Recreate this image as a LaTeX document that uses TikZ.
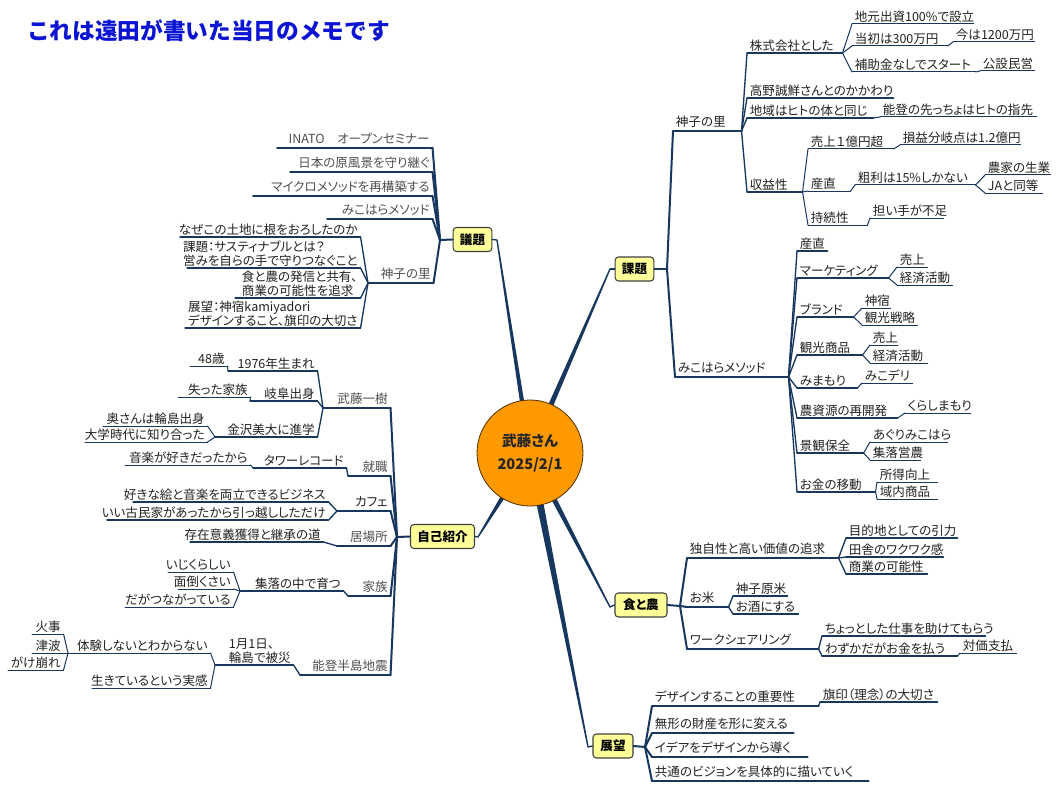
\documentclass[tikz,border=0pt]{standalone}
\usepackage{fontspec}
\setmainfont{Noto Sans CJK JP}[RawFeature={+palt}]
\newfontfamily\tfont{Noto Sans CJK JP}
\usetikzlibrary{calc}
\definecolor{mnavy}{HTML}{17375E}
\definecolor{txt}{HTML}{222222}
\definecolor{gtxt}{HTML}{505050}
\definecolor{boxy}{HTML}{FFFF99}
\definecolor{orng}{HTML}{FF9900}
\definecolor{ttl}{HTML}{0A14D2}
\tikzset{
 base/.style={inner xsep=0pt, text depth=0pt, font=\fontsize{9.4}{11.5}\selectfont, text=txt},
 t1/.style={base, inner ysep=3.5pt},
 t1g/.style={t1, text=gtxt},
 t2/.style={base, inner ysep=2pt},
 t3/.style={base, inner ysep=1.8pt},
 u1/.style={draw=mnavy, line width=1.5pt, line cap=round, line join=round},
 u1g/.style={u1},
 u2/.style={draw=mnavy, line width=1pt, line cap=round, line join=round},
 u3/.style={draw=mnavy, line width=0.75pt, line cap=round, line join=round},
 topic/.style={draw=black!75, fill=boxy, rounded corners=2.5pt, line width=0.8pt,
   font=\fontsize{9.4}{11}\selectfont\bfseries, minimum height=18pt, inner sep=1pt},
}
\newcommand\RT[6]{%
  \node[t#5, anchor=south west] (#1) at (#2,#4)
    {\makebox[\dimexpr(#3pt-#2pt)*3/4\relax][l]{\hspace*{2pt}#6}};
  \draw[u#5] (#1.south west) -- (#1.south east);}
\newcommand\LT[6]{%
  \node[t#5, anchor=south west] (#1) at (#2,#4)
    {\makebox[\dimexpr(#3pt-#2pt)*3/4\relax][r]{#6\hspace*{2pt}}};
  \draw[u#5] (#1.south west) -- (#1.south east);}
\newcommand\ml[2]{\begin{tabular}[b]{@{}l@{}}#1\\[-1.5pt]#2\end{tabular}}
\newcommand\taper[4]{\fill[mnavy] ($(#1)!#3!90:(#2)$) -- ($(#1)!#3!-90:(#2)$) -- ($(#2)!#4!90:(#1)$) -- ($(#2)!#4!-90:(#1)$) -- cycle;}
\begin{document}
\begin{tikzpicture}[x=0.75pt,y=-0.75pt]
\fill[white] (0,0) rectangle (1056,788);
\useasboundingbox (0,0) rectangle (1056,788);

\node[anchor=west, inner sep=0, font=\tfont\fontsize{17}{19}\selectfont\bfseries, text=ttl] (title) at (27,31) {これは遠田が書いた当日のメモです};

% ---------- centre and main branches ----------
\coordinate (ctr) at (530,453);
\coordinate (gB) at (497,240);
\coordinate (kB) at (610,269);
\coordinate (jB) at (478,537);
\coordinate (sB) at (610,607);
\coordinate (tB) at (588,747);
\coordinate (gA) at ($(ctr)!38pt!(gB)$);
\coordinate (kA) at ($(ctr)!38pt!(kB)$);
\coordinate (jA) at ($(ctr)!38pt!(jB)$);
\coordinate (sA) at ($(ctr)!38pt!(sB)$);
\coordinate (tA) at ($(ctr)!38pt!(tB)$);
\taper{gA}{gB}{1.6pt}{0.5pt}
\taper{kA}{kB}{1.9pt}{0.5pt}
\taper{jA}{jB}{1.6pt}{0.5pt}
\taper{sA}{sB}{1.9pt}{0.5pt}
\taper{tA}{tB}{2.6pt}{0.5pt}

\node[circle, draw=black!70!orng, line width=0.6pt, fill=orng, minimum size=79.5pt, inner sep=0pt,
      align=center, font=\fontsize{11}{17}\selectfont\bfseries, text=black!85] (center) at (ctr) {武藤さん\\2025/2/1};

\node[topic, minimum width=29pt] (gidai) at (472.5,239.5) {議題};
\node[topic, minimum width=29pt] (kadai) at (634.5,269) {課題};
\node[topic, minimum width=48pt] (jiko) at (442.5,536.5) {自己紹介};
\node[topic, minimum width=39pt] (shoku) at (641,605) {食と農};
\node[topic, minimum width=30pt] (tenbo) at (613,746) {展望};

\draw[u2] (gidai.east) -- (gB);
\draw[u2] (kB) -- (kadai.west);
\draw[u2] (jiko.east) -- (jB);
\draw[u2] (sB) -- (shoku.west);
\draw[u2] (tB) -- (tenbo.west);

\coordinate (gS) at (440,240);
\coordinate (kS) at (667,269);
\coordinate (jS) at (397,537);
\coordinate (sS) at (680,606);
\coordinate (tS) at (645,747);
\draw[u1] (gidai.west) -- (gS);
\draw[u1] (kadai.east) -- (kS);
\draw[u1] (jiko.west) -- (jS);
\draw[u1] (shoku.east) -- (sS);
\draw[u1] (tenbo.east) -- (tS);

% ---------- 課題 ----------
\RT{k1}{673}{741}{131}{1}{神子の里}
\RT{k11}{747}{842}{53}{2}{株式会社とした}
\RT{k12}{747}{893}{98}{2}{高野誠鮮さんとのかかわり}
\RT{k13}{747}{873}{118}{2}{地域はヒトの体と同じ}
\RT{k14}{747}{802}{192}{2}{収益性}
\RT{k111}{852}{973}{24}{3}{地元出資100\%で設立}
\RT{k112}{852}{947}{46}{3}{当初は300万円}
\RT{k113}{852}{975}{72}{3}{補助金なしでスタート}
\RT{k1121}{953}{1034}{42}{3}{今は1200万円}
\RT{k1131}{980}{1034}{71}{3}{公設民営}
\RT{k131}{880}{1036}{117}{3}{能登の先っちょはヒトの指先}
\RT{k141}{808}{893}{149}{3}{売上１億円超}
\RT{k142}{808}{850}{191}{3}{産直}
\RT{k143}{808}{867}{225}{3}{持続性}
\RT{k1411}{900}{1020}{145}{3}{損益分岐点は1.2億円}
\RT{k1421}{855}{975}{185}{3}{粗利は15\%しかない}
\RT{k14211}{985}{1050}{175}{3}{農家の生業}
\RT{k14212}{985}{1042}{193}{3}{JAと同等}
\RT{k1431}{870}{943}{218}{3}{担い手が不足}

\RT{k2}{675}{788}{377}{1}{みこはらメソッド}
\RT{k21}{797}{827}{251}{2}{産直}
\RT{k22}{797}{888}{278}{2}{マーケティング}
\RT{k23}{797}{853}{317}{2}{ブランド}
\RT{k24}{797}{862}{355}{2}{観光商品}
\RT{k25}{797}{857}{388}{2}{みまもり}
\RT{k26}{797}{897}{418}{2}{農資源の再開発}
\RT{k27}{797}{863}{453}{2}{景観保全}
\RT{k28}{797}{875}{492}{2}{お金の移動}
\RT{k221}{897}{927}{267}{3}{売上}
\RT{k222}{897}{952}{285}{3}{経済活動}
\RT{k231}{862}{890}{308}{3}{神宿}
\RT{k232}{862}{917}{325}{3}{観光戦略}
\RT{k241}{870}{897}{345}{3}{売上}
\RT{k242}{870}{927}{363}{3}{経済活動}
\RT{k251}{862}{912}{383}{3}{みこデリ}
\RT{k261}{905}{970}{413}{3}{くらしまもり}
\RT{k271}{870}{947}{442}{3}{あぐりみこはら}
\RT{k272}{870}{920}{460}{3}{集落営農}
\RT{k281}{877}{937}{482}{3}{所得向上}
\RT{k282}{877}{937}{499}{3}{域内商品}

\foreach \c in {k1,k2} \draw[u1] (kS) -- (\c.south west);
\foreach \c in {k11,k12,k13,k14} \draw[u2] (k1.south east) -- (\c.south west);
\foreach \c in {k111,k112,k113} \draw[u3] (k11.south east) -- (\c.south west);
\draw[u3] (k112.south east) -- (k1121.south west);
\draw[u3] (k113.south east) -- (k1131.south west);
\draw[u3] (k13.south east) -- (k131.south west);
\foreach \c in {k141,k142,k143} \draw[u3] (k14.south east) -- (\c.south west);
\draw[u3] (k141.south east) -- (k1411.south west);
\draw[u3] (k142.south east) -- (k1421.south west);
\foreach \c in {k14211,k14212} \draw[u3] (k1421.south east) -- (\c.south west);
\draw[u3] (k143.south east) -- (k1431.south west);
\foreach \c in {k21,k22,k23,k24,k25,k26,k27,k28} \draw[u2] (k2.south east) -- (\c.south west);
\foreach \c in {k221,k222} \draw[u3] (k22.south east) -- (\c.south west);
\foreach \c in {k231,k232} \draw[u3] (k23.south east) -- (\c.south west);
\foreach \c in {k241,k242} \draw[u3] (k24.south east) -- (\c.south west);
\draw[u3] (k25.south east) -- (k251.south west);
\draw[u3] (k26.south east) -- (k261.south west);
\foreach \c in {k271,k272} \draw[u3] (k27.south east) -- (\c.south west);
\foreach \c in {k281,k282} \draw[u3] (k28.south east) -- (\c.south west);

% ---------- 食と農 ----------
\RT{s1}{687}{838}{558}{1}{独自性と高い価値の追求}
\RT{s2}{687}{728}{607}{1}{お米}
\RT{s3}{687}{818}{649}{1}{ワークシェアリング}
\RT{s11}{846}{957}{538}{2}{目的地としての引力}
\RT{s12}{846}{943}{557}{2}{田舎のワクワク感}
\RT{s13}{846}{927}{574}{2}{商業の可能性}
\RT{s21}{733}{787}{596}{2}{神子原米}
\RT{s22}{733}{798}{614}{2}{お酒にする}
\RT{s31}{822}{985}{636}{2}{ちょっとした仕事を助けてもらう}
\RT{s32}{822}{957}{656}{2}{わずかだがお金を払う}
\RT{s321}{960}{1016}{653}{3}{対価支払}
\foreach \c in {s1,s2,s3} \draw[u1] (sS) -- (\c.south west);
\foreach \c in {s11,s12,s13} \draw[u2] (s1.south east) -- (\c.south west);
\foreach \c in {s21,s22} \draw[u2] (s2.south east) -- (\c.south west);
\foreach \c in {s31,s32} \draw[u2] (s3.south east) -- (\c.south west);
\draw[u3] (s32.south east) -- (s321.south west);

% ---------- 展望 ----------
\RT{t1}{652}{818}{706}{1}{デザインすることの重要性}
\RT{t2}{652}{793}{733}{1}{無形の財産を形に変える}
\RT{t3}{652}{807}{757}{1}{イデアをデザインから導く}
\RT{t4}{652}{868}{781}{1}{共通のビジョンを具体的に描いていく}
\RT{t11}{820}{937}{702}{2}{旗印（理念）の大切さ}
\foreach \c in {t1,t2,t3,t4} \draw[u1] (tS) -- (\c.south west);
\draw[u2] (t1.south east) -- (t11.south west);

% ---------- 議題 ----------
\LT{g1}{277}{432}{148}{1g}{INATO　オープンセミナー}
\LT{g2}{290}{432}{172}{1g}{日本の原風景を守り継ぐ}
\LT{g3}{253}{432}{196}{1g}{マイクロメソッドを再構築する}
\LT{g4}{327}{432}{219}{1g}{みこはらメソッド}
\LT{g5}{368}{433}{283}{1g}{神子の里}
\LT{g51}{180}{360}{237}{2}{なぜこの土地に根をおろしたのか}
\LT{g52}{187}{360}{268}{2}{\ml{課題：サスティナブルとは？}{営みを自らの手で守りつなぐこと}}
\LT{g53}{235}{360}{298}{2}{\ml{食と農の発信と共有、}{商業の可能性を追求}}
\LT{g54}{185}{360}{328}{2}{\ml{展望：神宿kamiyadori}{デザインすること、旗印の大切さ}}
\foreach \c in {g1,g2,g3,g4,g5} \draw[u1] (gS) -- (\c.south east);
\foreach \c in {g51,g52,g53,g54} \draw[u2] (g5.south west) -- (\c.south east);

% ---------- 自己紹介 ----------
\LT{j1}{323}{390}{408}{1g}{武藤一樹}
\LT{j2}{348}{390}{476}{1g}{就職}
\LT{j3}{337}{390}{511}{1}{カフェ}
\LT{j4}{337}{390}{546}{1g}{居場所}
\LT{j5}{348}{390}{596}{1g}{家族}
\LT{j6}{300}{390}{675}{1g}{能登半島地震}
\LT{j11}{228}{317}{371}{2}{1976年生まれ}
\LT{j12}{250}{317}{401}{2}{岐阜出身}
\LT{j13}{215}{317}{437}{2}{金沢美大に進学}
\LT{j111}{190}{227}{366}{3}{48歳}
\LT{j121}{178}{250}{397}{3}{失った家族}
\LT{j131}{103}{207}{426}{3}{奥さんは輪島出身}
\LT{j132}{85}{207}{442}{3}{大学時代に知り合った}
\LT{j21}{253}{346}{468}{2}{タワーレコード}
\LT{j211}{125}{250}{465}{3}{音楽が好きだったから}
\LT{j31}{133}{328}{502}{2}{好きな絵と音楽を両立できるビジネス}
\LT{j32}{107}{328}{520}{2}{いい古民家があったから引っ越ししただけ}
\LT{j41}{190}{323}{542}{2}{存在意義獲得と継承の道}
\LT{j51}{240}{343}{591}{2}{集落の中で育つ}
\LT{j511}{168}{233}{572}{3}{いじくらしい}
\LT{j512}{178}{233}{589}{3}{面倒くさい}
\LT{j513}{125}{233}{607}{3}{だがつながっている}
\LT{j61}{215}{293}{665}{2}{\ml{1月1日、}{輪島で被災}}
\LT{j611}{68}{210}{653}{3}{体験しないとわからない}
\LT{j612}{92}{210}{688}{3}{生きているという実感}
\LT{j6111}{32}{63}{634}{3}{火事}
\LT{j6112}{32}{63}{653}{3}{津波}
\LT{j6113}{8}{63}{670}{3}{がけ崩れ}
\foreach \c in {j1,j2,j3,j4,j5,j6} \draw[u1] (jS) -- (\c.south east);
\foreach \c in {j11,j12,j13} \draw[u2] (j1.south west) -- (\c.south east);
\draw[u3] (j11.south west) -- (j111.south east);
\draw[u3] (j12.south west) -- (j121.south east);
\foreach \c in {j131,j132} \draw[u3] (j13.south west) -- (\c.south east);
\draw[u2] (j2.south west) -- (j21.south east);
\draw[u3] (j21.south west) -- (j211.south east);
\foreach \c in {j31,j32} \draw[u2] (j3.south west) -- (\c.south east);
\draw[u2] (j4.south west) -- (j41.south east);
\draw[u2] (j5.south west) -- (j51.south east);
\foreach \c in {j511,j512,j513} \draw[u3] (j51.south west) -- (\c.south east);
\draw[u2] (j6.south west) -- (j61.south east);
\foreach \c in {j611,j612} \draw[u3] (j61.south west) -- (\c.south east);
\foreach \c in {j6111,j6112,j6113} \draw[u3] (j611.south west) -- (\c.south east);
\end{tikzpicture}
\end{document}
